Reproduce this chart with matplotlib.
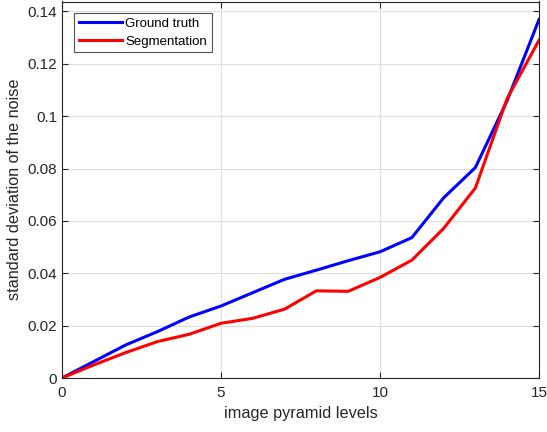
import matplotlib
matplotlib.use("Agg")
import matplotlib.pyplot as plt
from matplotlib.ticker import FuncFormatter

plt.rcParams['font.family'] = ['Liberation Sans', 'DejaVu Sans']

levels = list(range(16))
ground_truth = [0.0, 0.0063, 0.0126, 0.0177, 0.0233, 0.0275, 0.0326, 0.0377,
                0.0412, 0.0448, 0.0482, 0.0536, 0.0688, 0.0804, 0.1060, 0.1369]
segmentation = [0.0, 0.0050, 0.0097, 0.0139, 0.0167, 0.0209, 0.0228, 0.0263,
                0.0333, 0.0331, 0.0384, 0.0450, 0.0571, 0.0726, 0.1068, 0.1290]
xticks = [0, 5, 10, 15]
yticks = [0, 0.02, 0.04, 0.06, 0.08, 0.10, 0.12, 0.14]

axcol = (0.15, 0.15, 0.15)
fig = plt.figure(figsize=(5.47, 4.32), dpi=100)
ax = fig.add_axes([62/547, 1-378/432, (539-62)/547, (378-1.5)/432])

ax.plot(levels, ground_truth, color=(0, 0, 1), lw=2.2, label='Ground truth')
ax.plot(levels, segmentation, color=(1, 0, 0), lw=2.2, label='Segmentation')

ax.set_xlim(0, 15)
ax.set_ylim(0, 0.1438)
ax.set_xticks(xticks)
ax.set_yticks(yticks)
ax.yaxis.set_major_formatter(FuncFormatter(lambda v, p: '%g' % round(v, 4)))
ax.grid(True, color=(0.87, 0.87, 0.87), lw=0.8)
ax.set_axisbelow(True)
ax.tick_params(direction='in', top=True, right=True, length=4, width=0.8,
               colors=axcol, labelsize=11, labelcolor=axcol)
ax.tick_params(axis='x', pad=6)
for s in ax.spines.values():
    s.set_color(axcol)
    s.set_linewidth(0.8)
ax.set_xlabel('image pyramid levels', fontsize=11.7, color=axcol, labelpad=4)
ax.set_ylabel('standard deviation of the noise', fontsize=11.7, color=axcol, labelpad=4)

leg = ax.legend(loc='upper left', fontsize=9.5, frameon=True, fancybox=False,
                edgecolor=axcol, borderpad=0.35, handlelength=3.3,
                handletextpad=0.25, labelspacing=0.4, borderaxespad=0,
                bbox_to_anchor=(0.025, 0.969))
leg.get_frame().set_linewidth(0.8)

fig.savefig('out.png', dpi=100)
